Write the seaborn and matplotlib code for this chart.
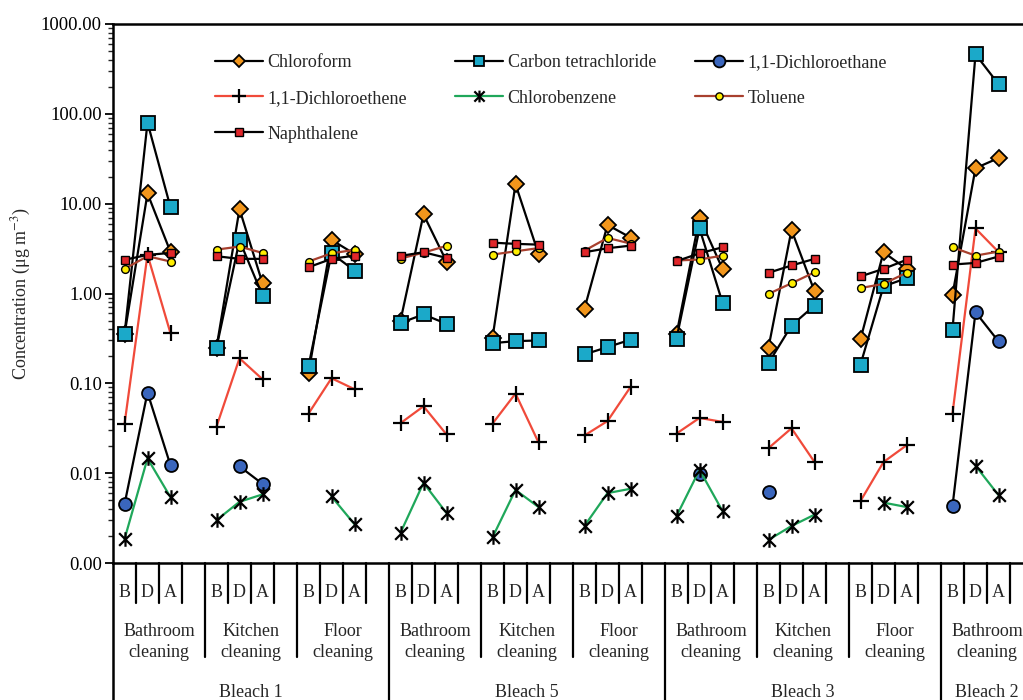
import numpy as np
import pandas as pd
import matplotlib
matplotlib.use("Agg")
import matplotlib.pyplot as plt
import seaborn as sns
from matplotlib.lines import Line2D
from matplotlib.path import Path
from matplotlib.ticker import LogLocator, FuncFormatter, NullFormatter

nan = np.nan

# ---------------- data ----------------
bleaches = ["Bleach 1", "Bleach 5", "Bleach 3", "Bleach 2"]
activities = ["Bathroom\ncleaning", "Kitchen\ncleaning", "Floor\ncleaning",
              "Bathroom\ncleaning", "Kitchen\ncleaning", "Floor\ncleaning",
              "Bathroom\ncleaning", "Kitchen\ncleaning", "Floor\ncleaning",
              "Bathroom\ncleaning"]
activity_bleach = [0, 0, 0, 1, 1, 1, 2, 2, 2, 3]
phases = ["B", "D", "A"]

chloroform = [0.35, 13, 2.9, 0.25, 8.7, 1.30, 0.13, 3.95, 2.76,
              0.50, 7.6, 2.27, 0.32, 16.5, 2.76, 0.68, 5.8, 4.2,
              0.35, 7.0, 1.88, 0.25, 5.1, 1.06, 0.31, 2.88, 1.88,
              0.97, 24.8, 32.2]
carbon_tet = [0.35, 80, 9.1, 0.25, 3.9, 0.95, 0.155, 2.8, 1.8,
              0.47, 0.585, 0.46, 0.28, 0.295, 0.30, 0.21, 0.253, 0.306,
              0.314, 5.3, 0.79, 0.168, 0.44, 0.735, 0.162, 1.20, 1.48,
              0.395, 460, 214]
dichloroethane = [0.0045, 0.079, 0.0122, nan, 0.0119, 0.0076, nan, nan, nan,
                  nan, nan, nan, nan, nan, nan, nan, nan, nan,
                  nan, 0.0099, nan, 0.0062, nan, nan, nan, nan, nan,
                  0.0043, 0.62, 0.293]
dichloroethene = [0.035, 2.7, 0.36, 0.033, 0.19, 0.111, 0.046, 0.114, 0.086,
                  0.036, 0.0555, 0.027, 0.0356, 0.077, 0.022, 0.0263, 0.038, 0.091,
                  0.0276, 0.0412, 0.0372, 0.019, 0.0316, 0.0133, 0.0049, 0.0133, 0.0204,
                  0.046, 5.3, 2.9]
chlorobenzene = [0.00184, 0.0146, 0.0054, 0.0030, 0.0048, 0.0058, nan, 0.0055, 0.0027,
                 0.00217, 0.0078, 0.0036, 0.00193, 0.0065, 0.0042, 0.00259, 0.0060, 0.0067,
                 0.00332, 0.0109, 0.00379, 0.00181, 0.00258, 0.00345, nan, 0.0047, 0.0042,
                 nan, 0.0121, 0.0057]
toluene = [1.88, 2.6, 2.27, 3.08, 3.33, 2.83, 2.27, 2.8, 3.06,
           2.45, 2.85, 3.39, 2.71, 2.95, 3.2, 3.0, 4.15, 3.6,
           2.33, 2.39, 2.64, 0.99, 1.30, 1.72, 1.15, 1.28, 1.70,
           3.27, 2.64, 2.93]
naphthalene = [2.37, 2.69, 2.83, 2.6, 2.43, 2.43, 1.96, 2.43, 2.64,
               2.62, 2.88, 2.49, 3.68, 3.57, 3.5, 2.88, 3.19, 3.41,
               2.29, 2.8, 3.27, 1.70, 2.05, 2.43, 1.55, 1.88, 2.37,
               2.10, 2.19, 2.58]

compounds = ["Chloroform", "Carbon tetrachloride", "1,1-Dichloroethane",
             "1,1-Dichloroethene", "Chlorobenzene", "Toluene", "Naphthalene"]
series = [chloroform, carbon_tet, dichloroethane, dichloroethene,
          chlorobenzene, toluene, naphthalene]

rows = []
for comp, vals in zip(compounds, series):
    for i, v in enumerate(vals):
        g, s = divmod(i, 3)
        rows.append(dict(compound=comp, group=g, x=4 * g + s, value=v))
df = pd.DataFrame(rows).dropna()

# ---------------- style ----------------
sns.set_theme(style="ticks")
plt.rcParams["font.family"] = ["Liberation Serif", "DejaVu Serif"]
plt.rcParams["mathtext.fontset"] = "stix"

ast_path = Path([(-1, -1), (1, 1), (-1, 1), (1, -1), (0, -1.15), (0, 1.15)],
                [Path.MOVETO, Path.LINETO, Path.MOVETO, Path.LINETO,
                 Path.MOVETO, Path.LINETO])

styles = {
    "Chloroform": dict(color="black", marker="D", markersize=8.2,
                       markerfacecolor="#F2961C", markeredgewidth=1.3),
    "Carbon tetrachloride": dict(color="black", marker="s", markersize=9.8,
                                 markerfacecolor="#1BA9C9", markeredgewidth=1.3),
    "1,1-Dichloroethane": dict(color="black", marker="o", markersize=9.3,
                               markerfacecolor="#3A66BD", markeredgewidth=1.3),
    "1,1-Dichloroethene": dict(color="#F04A3A", marker="+", markersize=12,
                               markerfacecolor="none", markeredgewidth=1.6),
    "Chlorobenzene": dict(color="#1FA75A", marker=ast_path, markersize=10.5,
                          markerfacecolor="none", markeredgewidth=1.6),
    "Toluene": dict(color="#A8402E", marker="o", markersize=5.6,
                    markerfacecolor="#FFEE00", markeredgewidth=1.0),
    "Naphthalene": dict(color="black", marker="s", markersize=5.6,
                        markerfacecolor="#E0262A", markeredgewidth=1.0),
}
legend_ms = {"Chloroform": 6.2, "Carbon tetrachloride": 7.6, "1,1-Dichloroethane": 8.5,
             "1,1-Dichloroethene": 9.5, "Chlorobenzene": 8.5, "Toluene": 5.2,
             "Naphthalene": 5.2}

W, H = 1023, 700
fig = plt.figure(figsize=(W / 100, H / 100), dpi=100)
ax = fig.add_axes([113 / W, 137 / H, 920 / W, 539 / H])

for comp in compounds:
    st = styles[comp]
    sub = df[df.compound == comp]
    sns.lineplot(data=sub, x="x", y="value", units="group", estimator=None,
                 sort=False, ax=ax, color=st["color"], marker=st["marker"],
                 markersize=st["markersize"], markerfacecolor=st["markerfacecolor"],
                 markeredgecolor="black", markeredgewidth=st["markeredgewidth"],
                 linewidth=1.6, legend=False)

ax.set_yscale("log")
ax.set_ylim(0.001, 1000)
ax.set_xlim(-0.5, 39.5)
ax.yaxis.set_major_locator(LogLocator(base=10, numticks=10))
ax.yaxis.set_minor_locator(LogLocator(base=10, subs=np.arange(2, 10), numticks=100))
ax.yaxis.set_major_formatter(FuncFormatter(lambda v, p: f"{v:.2f}"))
ax.yaxis.set_minor_formatter(NullFormatter())
ax.tick_params(axis="y", which="major", direction="out", length=6, width=1.3,
               labelsize=13.5, pad=2, colors="black")
ax.tick_params(axis="y", which="minor", direction="out", length=3.5, width=1.0)
ax.set_xticks([])
ax.set_xlabel("")
ax.set_ylabel("Concentration (μg m$^{-3}$)", fontsize=13)
ax.yaxis.set_label_coords((33 - 113) / 920, 0.5)
for sp in ax.spines.values():
    sp.set_linewidth(1.8)
    sp.set_color("black")

# ---------------- category "table" below axis ----------------
trans = ax.get_xaxis_transform()
lw_sep = 1.6
ax.plot([-0.5, -0.5], [0, -0.3], transform=trans, color="black", lw=1.8, clip_on=False)
for g in range(10):
    for s in range(3):
        ax.plot([4 * g + s + 0.5] * 2, [0, -0.0742], transform=trans,
                color="black", lw=lw_sep, clip_on=False)
        ax.text(4 * g + s, -0.054, phases[s], transform=trans, ha="center",
                va="center", fontsize=13)
    xb = 4 * g + 3.5
    bottom = -0.3 if (g % 3 == 2) else -0.1744
    ax.plot([xb, xb], [0, bottom], transform=trans, color="black",
            lw=lw_sep, clip_on=False)
    ax.text(4 * g + 1.5, -0.1465, activities[g], transform=trans, ha="center",
            va="center", fontsize=13, linespacing=1.25)
for b, name in enumerate(bleaches):
    gs = [i for i, bb in enumerate(activity_bleach) if bb == b]
    xc = (4 * min(gs) + 4 * max(gs) + 3) / 2
    ax.text(xc, -0.2395, name, transform=trans, ha="center", va="center", fontsize=13)

# ---------------- legend (3 columns) ----------------
def handle(comp):
    st = styles[comp]
    return Line2D([], [], color=st["color"], lw=1.6, marker=st["marker"],
                  markersize=legend_ms[comp], markerfacecolor=st["markerfacecolor"],
                  markeredgecolor="black", markeredgewidth=st["markeredgewidth"])

cols = [["Chloroform", "1,1-Dichloroethene", "Naphthalene"],
        ["Carbon tetrachloride", "Chlorobenzene"],
        ["1,1-Dichloroethane", "Toluene"]]
col_x = [215, 455, 695]
for cx, items in zip(col_x, cols):
    leg = fig.legend([handle(c) for c in items], items, loc="upper left",
                     bbox_to_anchor=(cx / W, 1 - 54 / H), frameon=False,
                     fontsize=13, handlelength=2.67, handletextpad=0.25,
                     borderpad=0, borderaxespad=0, labelspacing=1.04)

fig.savefig("out.png", dpi=100)
